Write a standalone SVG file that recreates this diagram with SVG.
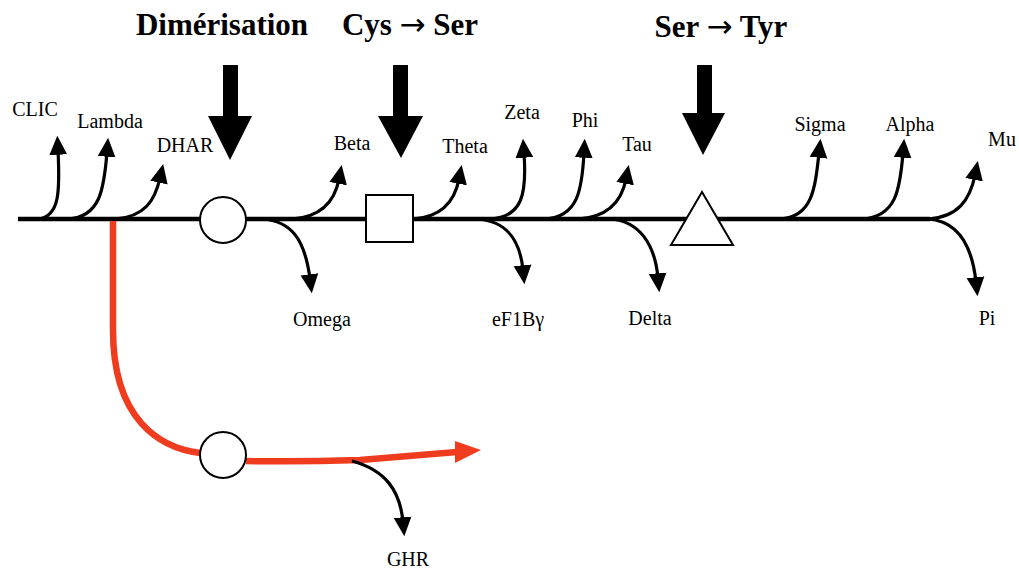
<svg xmlns="http://www.w3.org/2000/svg" width="1019" height="570" viewBox="0 0 1019 570">
<style>
.lbl{font-family:"Liberation Serif","Times New Roman",serif;font-size:20px;fill:#000;text-anchor:middle}
.ttl{font-family:"Liberation Serif","Times New Roman",serif;font-size:31px;font-weight:bold;fill:#000;text-anchor:middle}
.arw{font-family:"DejaVu Sans",sans-serif;font-weight:normal}
.br{fill:none;stroke:#000;stroke-width:3.2;marker-end:url(#ah)}
.node{fill:#fff;stroke:#000;stroke-width:2}
.big{fill:#000}
</style>
<defs>
<marker id="ah" markerUnits="userSpaceOnUse" viewBox="0 0 16 16" markerWidth="19" markerHeight="19" refX="4" refY="8" orient="auto">
<path d="M0,0.5 L16,8 L0,15.5 z" fill="#000"/>
</marker>
</defs>
<rect width="1019" height="570" fill="#fff"/>
<g id="titles">
<text class="ttl" x="222" y="35">Dimérisation</text>
<text class="ttl" x="410" y="35">Cys <tspan class="arw">→</tspan> Ser</text>
<text class="ttl" x="721" y="37">Ser <tspan class="arw">→</tspan> Tyr</text>
</g>
<g id="big-arrows">
<polygon class="big" points="223,65 238,65 238,116 252,116 230,160 208,116 223,116"/>
<polygon class="big" points="393,65 408,65 408,116 423,116 401,158 378,116 393,116"/>
<polygon class="big" points="697,65 712,65 712,113 725,113 703,155 682,113 697,113"/>
</g>
<g id="connectors">
<line x1="18" y1="219" x2="930" y2="219" stroke="#000" stroke-width="4.5"/>
<path d="M113,221 L113,330 C113,420 160,448 200,453" fill="none" stroke="#f03c1e" stroke-width="6.5"/>
<path d="M246,461 C300,462 330,461 360,460 L457,452" fill="none" stroke="#f03c1e" stroke-width="6.5"/>
<polygon points="455,441 481,450 455,463" fill="#f03c1e"/>
<path class="br" d="M38,219 C60,217 60,190 58,150"/>
<path class="br" d="M68,219 C100,217 104,190 107,152"/>
<path class="br" d="M115,219 C145,217 155,200 160,178"/>
<path class="br" d="M292,219 C322,217 335,200 339,179"/>
<path class="br" d="M413,219 C443,217 455,200 459,179"/>
<path class="br" d="M490,219 C522,217 527,195 524,153"/>
<path class="br" d="M545,219 C578,217 582,190 584,153"/>
<path class="br" d="M578,219 C610,217 622,200 626,179"/>
<path class="br" d="M780,219 C812,217 815,190 819,153"/>
<path class="br" d="M862,219 C896,217 900,190 903,153"/>
<path class="br" d="M928,219 C958,217 970,200 975,175"/>
<path class="br" d="M262,219 C292,221 305,240 310,279"/>
<path class="br" d="M477,219 C507,221 520,240 523,270"/>
<path class="br" d="M610,219 C640,221 655,245 658,278"/>
<path class="br" d="M928,219 C958,221 972,245 976,282"/>
<path class="br" d="M352,461 C385,470 400,490 403,522"/>
</g>
<g id="node-dimer"><circle class="node" cx="223" cy="220" r="23"/></g>
<g id="node-cys"><rect class="node" x="366" y="195" width="47" height="47"/></g>
<g id="node-ser"><polygon class="node" points="702,192 733,245 671,245"/></g>
<g id="node-ghr-dimer"><circle class="node" cx="223" cy="455" r="23"/></g>
<g id="labels">
<text class="lbl" x="35" y="116">CLIC</text>
<text class="lbl" x="110" y="128">Lambda</text>
<text class="lbl" x="185" y="152">DHAR</text>
<text class="lbl" x="352" y="150">Beta</text>
<text class="lbl" x="465" y="153">Theta</text>
<text class="lbl" x="522" y="119">Zeta</text>
<text class="lbl" x="585" y="127">Phi</text>
<text class="lbl" x="637" y="151">Tau</text>
<text class="lbl" x="820" y="131">Sigma</text>
<text class="lbl" x="910" y="131">Alpha</text>
<text class="lbl" x="1002" y="146">Mu</text>
<text class="lbl" x="322" y="326">Omega</text>
<text class="lbl" x="518" y="326">eF1Bγ</text>
<text class="lbl" x="650" y="325">Delta</text>
<text class="lbl" x="987" y="325">Pi</text>
<text class="lbl" x="408" y="566">GHR</text>
</g>
</svg>
